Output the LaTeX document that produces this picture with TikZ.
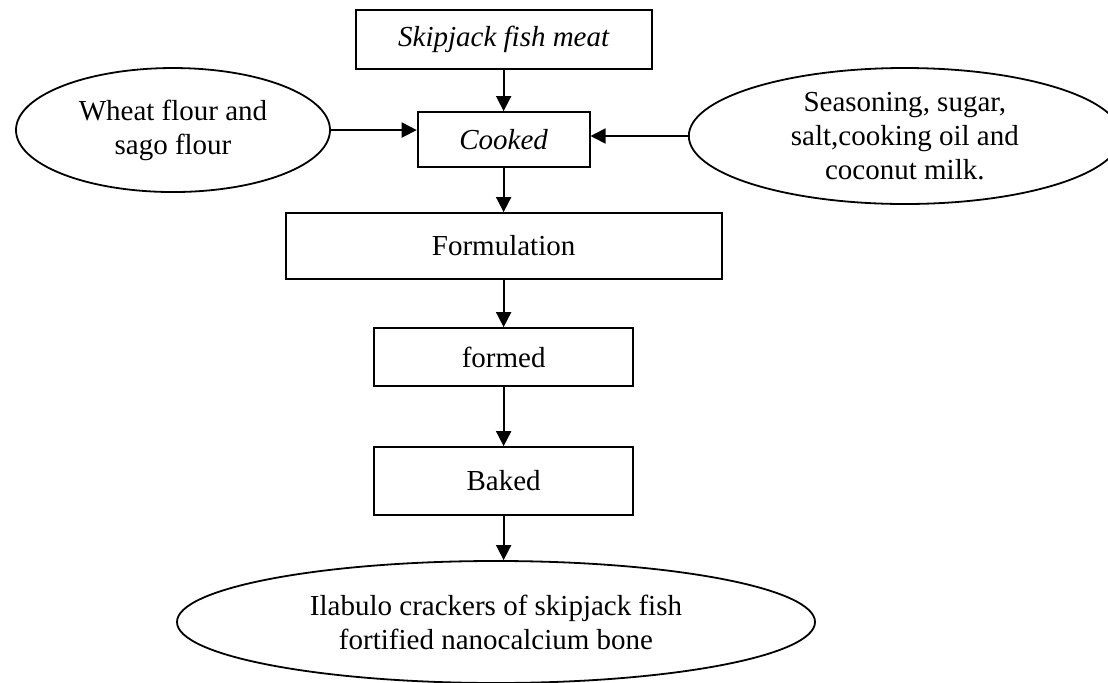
\documentclass[tikz,border=0pt]{standalone}
\usepackage{fontspec}
\setmainfont{Liberation Serif}
\usetikzlibrary{positioning,shapes.geometric,arrows.meta}

\tikzset{
  stepbox/.style={draw,line width=0.9pt,inner sep=0pt,align=center},
  inbox/.style={draw,ellipse,line width=0.9pt,inner sep=0pt,align=center},
  arr/.style={line width=0.9pt,-{Triangle[length=7.5pt,width=7.5pt]}}
}

\begin{document}
\begin{tikzpicture}[font=\fontsize{14.5}{17}\selectfont]
    \useasboundingbox (0,0) rectangle (19.47,-11.985);
    % main steps
    \node[stepbox,minimum width=148pt,minimum height=29.5pt] (skip) at (8.85,-0.694) {\itshape Skipjack fish meat};
    \node[stepbox,minimum width=86pt,minimum height=27.5pt] (cook) at (8.85,-2.451) {\itshape Cooked};
    \node[stepbox,minimum width=218pt,minimum height=33pt] (form) at (8.85,-4.323) {Formulation};
    \node[stepbox,minimum width=129.5pt,minimum height=29pt] (shaped) at (8.85,-6.274) {formed};
    \node[stepbox,minimum width=129.5pt,minimum height=34pt] (baked) at (8.85,-8.453) {Baked};
    % ingredients and product
    \node[inbox,minimum width=157pt,minimum height=62pt] (wheat) at (3.04,-2.285) {Wheat flour and\\ sago flour};
    \node[inbox,minimum width=216pt,minimum height=68pt] (season) at (15.90,-2.390) {Seasoning, sugar,\\ salt,cooking oil and\\ coconut milk.};
    \node[inbox,minimum width=319pt,minimum height=61pt] (cracker) at (8.716,-10.93) {Ilabulo crackers of skipjack fish\\ fortified nanocalcium bone};
    % arrows
    \draw[arr] (skip) -- (cook);
    \draw[arr] (wheat.east) -- (wheat.east -| cook.west);
    \draw[arr] (season.west) -- (season.west -| cook.east);
    \draw[arr] (cook) -- (form);
    \draw[arr] (form) -- (shaped);
    \draw[arr] (shaped) -- (baked);
    \draw[arr] (baked.south) -- (baked.south |- cracker.north);
  \end{tikzpicture}
\end{document}
